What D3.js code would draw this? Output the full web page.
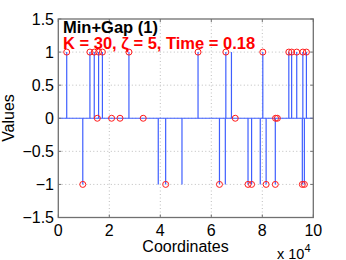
<!DOCTYPE html>
<html><head><meta charset="utf-8">
<script src="https://cdn.jsdelivr.net/npm/d3@7"></script>
<style>body{margin:0;background:#fff}svg{display:block}text{font-family:"Liberation Sans",Arial,sans-serif}</style>
</head><body><svg id="c" width="346" height="260"></svg>
<script>
// true signal coordinates (in units of 1e4) and values
const truePos = [0.33,1.24,1.41,1.58,1.73,2.77,5.48,6.57,6.79,8.02,9.04,9.15,9.35,9.59,9.73];
const trueNeg = [0.96,3.92,4.21,4.85,6.32,6.55,7.44,7.58,7.92,8.15,8.51,9.57,9.65];
// estimated coordinates with their estimated values
const estX = [0.33,1.24,1.41,1.58,1.73,2.77,5.48,6.57,8.02,9.04,9.15,9.35,9.59,9.73,
              0.96,4.21,6.32,7.44,7.58,8.15,8.51,9.57,9.65,
              1.53,2.09,2.42,3.33,6.94,8.52,8.59];
const estV = [1,1,1,1,1,1,1,1,1,1,1,1,1,1,
              -1,-1,-1,-1,-1,-1,-1,-1,-1,
              0,0,0,0,0,0,0];
const xTicks = [0,2,4,6,8,10];
const yTicks = [-1.5,-1,-0.5,0,0.5,1,1.5];
const titleLine1 = "Min+Gap (1)";
const titleLine2 = "K = 30, \u03B6 = 5, Time = 0.18";

const svg = d3.select("#c");
const L=58.3, R=313.3, T=19, B=217.5;
const x = d3.scaleLinear().domain([0,10]).range([L,R]);
const y = d3.scaleLinear().domain([-1.5,1.5]).range([B,T]);

// grid
const g = svg.append("g");
g.selectAll(".gx").data(xTicks.filter(d=>d>0&&d<10)).enter().append("line")
 .attr("x1",d=>x(d)).attr("x2",d=>x(d)).attr("y1",T).attr("y2",B)
 .attr("stroke","#bdbdbd").attr("stroke-width",1).attr("stroke-dasharray","1,2.5");
g.selectAll(".gy").data(yTicks.filter(d=>d>-1.5&&d<1.5)).enter().append("line")
 .attr("x1",L).attr("x2",R).attr("y1",d=>y(d)).attr("y2",d=>y(d))
 .attr("stroke","#bdbdbd").attr("stroke-width",1).attr("stroke-dasharray","1,2.5");

const blue="#3f5fff";
// stems
const stems = truePos.map(p=>({p,v:1})).concat(trueNeg.map(p=>({p,v:-1})));
svg.append("g").selectAll("line").data(stems).enter().append("line")
 .attr("x1",d=>x(d.p)).attr("x2",d=>x(d.p)).attr("y1",y(0)).attr("y2",d=>y(d.v))
 .attr("stroke",blue).attr("stroke-width",1.2);
// baseline
svg.append("line").attr("x1",L).attr("x2",R).attr("y1",y(0)).attr("y2",y(0))
 .attr("stroke",blue).attr("stroke-width",1.2);

// circles
svg.append("g").selectAll("circle").data(estX.map((p,i)=>({p,v:estV[i]}))).enter().append("circle")
 .attr("cx",d=>x(d.p)).attr("cy",d=>y(d.v)).attr("r",3)
 .attr("fill","none").attr("stroke","#ff1a1a").attr("stroke-width",1);

// axes box
const axc="#707070";
svg.append("rect").attr("x",L).attr("y",T).attr("width",R-L).attr("height",B-T)
 .attr("fill","none").attr("stroke",axc).attr("stroke-width",1.3);
// ticks inside
const ax = svg.append("g");
xTicks.forEach(t=>{
  ax.append("line").attr("x1",x(t)).attr("x2",x(t)).attr("y1",B).attr("y2",B-3).attr("stroke",axc);
  ax.append("line").attr("x1",x(t)).attr("x2",x(t)).attr("y1",T).attr("y2",T+3).attr("stroke",axc);
});
yTicks.forEach(t=>{
  ax.append("line").attr("x1",L).attr("x2",L+3).attr("y1",y(t)).attr("y2",y(t)).attr("stroke",axc);
  ax.append("line").attr("x1",R).attr("x2",R-3).attr("y1",y(t)).attr("y2",y(t)).attr("stroke",axc);
});
const fmtY = d=> (d<0?"\u2212":"")+Math.abs(d);
svg.append("g").selectAll("text").data(yTicks).enter().append("text")
 .attr("x",54).attr("y",d=>y(d)+5.8).attr("text-anchor","end").attr("font-size",16)
 .text(fmtY);
svg.append("g").selectAll("text").data(xTicks).enter().append("text")
 .attr("x",d=>x(d)).attr("y",235.5).attr("text-anchor","middle").attr("font-size",16)
 .text(d=>d);

// axis labels
svg.append("text").attr("x",185.5).attr("y",251.5).attr("text-anchor","middle").attr("font-size",16).text("Coordinates");
svg.append("text").attr("transform","translate(14,118) rotate(-90)").attr("text-anchor","middle").attr("font-size",16).text("Values");
const ex = svg.append("text").attr("x",277).attr("y",258.5).attr("font-size",14.5);
ex.append("tspan").text("x 10");
ex.append("tspan").attr("dy",-7).attr("font-size",11).text("4");

// title texts
svg.append("text").attr("x",63).attr("y",32.5).attr("font-size",16.5).attr("font-weight","bold").attr("fill","#000").text(titleLine1);
svg.append("text").attr("x",63).attr("y",48.5).attr("font-size",16.5).attr("font-weight","bold").attr("fill","#ff0000").text(titleLine2);
</script></body></html>
